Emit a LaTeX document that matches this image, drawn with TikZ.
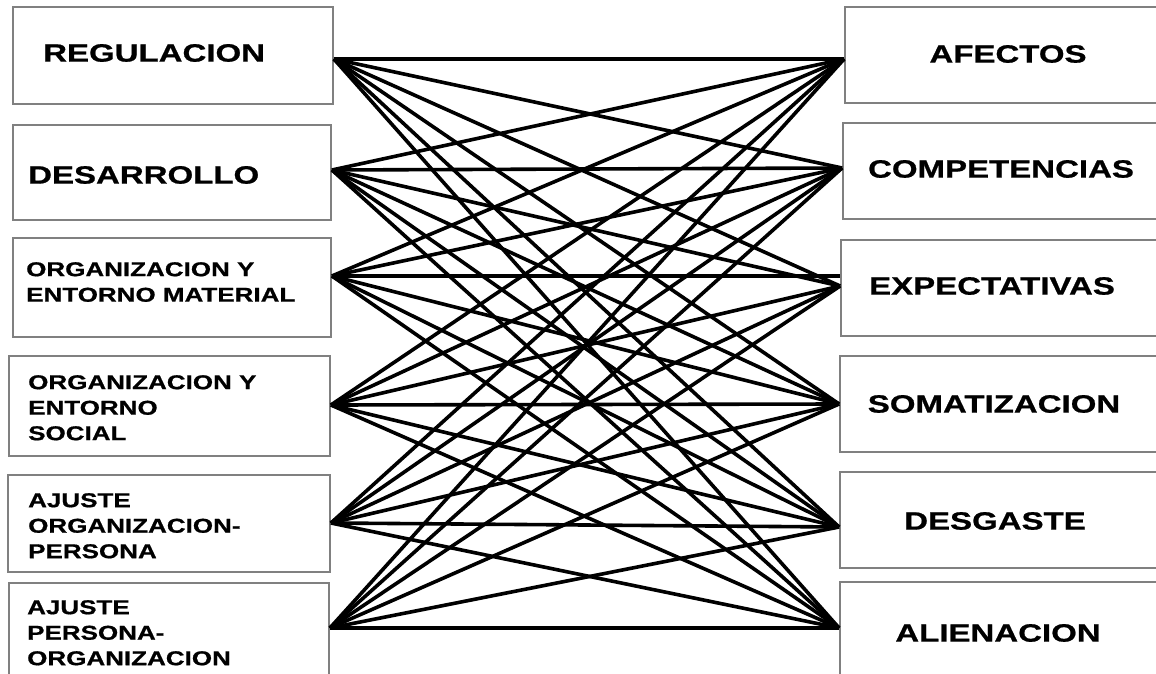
\documentclass[tikz,border=0pt]{standalone}
\usepackage{fontspec}
\newfontfamily\lblbig{Liberation Sans Bold}[FakeStretch=1.32,FakeBold=0.8]
\newfontfamily\lblsmall{Liberation Sans Bold}[FakeStretch=1.3,FakeBold=0.8]
\usetikzlibrary{calc}
\definecolor{boxgray}{RGB}{128,128,128}
\tikzset{
  box/.style={draw=boxgray, line width=1.8pt, rectangle, inner sep=0pt},
  bigtxt/.style={font=\lblbig\fontsize{25}{30}\selectfont, text=black, inner sep=0pt},
  smalltxt/.style={font=\lblsmall\fontsize{20}{25.5}\selectfont, text=black, inner sep=0pt, align=left, anchor=north west},
  conn/.style={draw=black, line width=3.6pt}
}
\begin{document}
\begin{tikzpicture}[x=1pt,y=-1pt]
\useasboundingbox (0,0) rectangle (1156,674);
\clip (0,0) rectangle (1156,674);
% left boxes
\node[box, minimum width=320pt, minimum height=97pt] (l1) at (173,55.5) {};
\node[box, minimum width=318pt, minimum height=95pt] (l2) at (172,172.5) {};
\node[box, minimum width=318pt, minimum height=99pt] (l3) at (172,287.5) {};
\node[box, minimum width=321pt, minimum height=100pt] (l4) at (169.5,406) {};
\node[box, minimum width=322pt, minimum height=97pt] (l5) at (169,523.5) {};
\node[box, minimum width=320pt, minimum height=107pt] (l6) at (169,636.5) {};
% right boxes
\node[box, minimum width=325pt, minimum height=96pt] (r1) at (1007.5,55) {};
\node[box, minimum width=327pt, minimum height=96pt] (r2) at (1006.5,171) {};
\node[box, minimum width=329pt, minimum height=96pt] (r3) at (1005.5,288) {};
\node[box, minimum width=330pt, minimum height=96pt] (r4) at (1005,404) {};
\node[box, minimum width=330pt, minimum height=96pt] (r5) at (1005,520) {};
\node[box, minimum width=330pt, minimum height=108pt] (r6) at (1005,636) {};
% left labels
\node[bigtxt, anchor=west] (t1) at (43,53) {REGULACION};
\node[bigtxt, anchor=west] (t2) at (28,175) {DESARROLLO};
\node[smalltxt] (t3) at (26,262) {ORGANIZACION Y\\ENTORNO MATERIAL};
\node[smalltxt] (t4) at (28,375) {ORGANIZACION Y\\ENTORNO\\SOCIAL};
\node[smalltxt] (t5) at (28,493) {AJUSTE\\ORGANIZACION-\\PERSONA};
\node[smalltxt] (t6) at (27,600) {AJUSTE\\PERSONA-\\ORGANIZACION};
% right labels
\node[bigtxt] (u1) at (1008,54) {AFECTOS};
\node[bigtxt] (u2) at (1001,169) {COMPETENCIAS};
\node[bigtxt] (u3) at (992,286) {EXPECTATIVAS};
\node[bigtxt] (u4) at (994,404) {SOMATIZACION};
\node[bigtxt] (u5) at (995,521) {DESGASTE};
\node[bigtxt] (u6) at (998,633) {ALIENACION};
% connector ends
\coordinate (p1) at ($(l1.east)+(0,3.5)$);
\coordinate (p2) at ($(l2.east)+(0,-2.5)$);
\coordinate (p3) at ($(l3.east)+(0,-11.5)$);
\coordinate (p4) at ($(l4.east)+(0,-1)$);
\coordinate (p5) at ($(l5.east)+(0,-0.5)$);
\coordinate (p6) at ($(l6.east)+(0,-8.5)$);
\coordinate (q1) at ($(r1.west)+(0,4)$);
\coordinate (q2) at ($(r2.west)+(0,-3)$);
\coordinate (q3) at ($(r3.west)+(0,-2)$);
\coordinate (q4) at ($(r4.west)+(0,0)$);
\coordinate (q5) at ($(r5.west)+(0,7)$);
\coordinate (q6) at ($(r6.west)+(0,-8)$);
% connectors
\foreach \i in {1,...,6}{
  \foreach \j in {1,...,6}{
    \ifnum\i\j=33\relax\else\draw[conn] (p\i) -- (q\j);\fi
  }
}
\draw[conn] (p3) -- (p3 -| r3.west);
\end{tikzpicture}
\end{document}
